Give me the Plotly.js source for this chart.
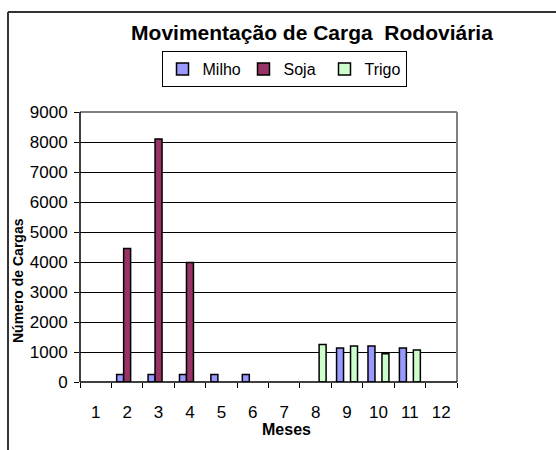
<!DOCTYPE html>
<html>
<head>
<meta charset="utf-8">
<script src="https://cdn.plot.ly/plotly-3.0.1.min.js"></script>
<style>html,body{margin:0;padding:0;background:#fff;}#chart{width:556px;height:450px;}</style>
</head>
<body>
<div id="chart"></div>
<script>
const months = ['1','2','3','4','5','6','7','8','9','10','11','12'];
const milho = [null, 250, 250, 250, 250, 250, null, null, 1130, 1200, 1130, null];
const soja  = [null, 4450, 8100, 3980, null, null, null, null, null, null, null, null];
const trigo = [null, null, null, null, null, null, null, 1250, 1200, 940, 1070, null];
const yTicks = [0,1000,2000,3000,4000,5000,6000,7000,8000,9000];

const W = 556, H = 450;
const M = {l: 80, r: 99, t: 112, b: 68};
const pw = W - M.l - M.r, ph = H - M.t - M.b;
const px = x => (x - M.l) / pw;
const py = y => (H - M.b - y) / ph;

const FONT = 'Liberation Sans, Arial, sans-serif';
const outline = {color: '#000', width: 1.5};

const traces = [
  {type: 'bar', name: 'Milho', x: months, y: milho, marker: {color: '#9999FF', line: outline}},
  {type: 'bar', name: 'Soja',  x: months, y: soja,  marker: {color: '#993366', line: outline}},
  {type: 'bar', name: 'Trigo', x: months, y: trigo, marker: {color: '#CCFFCC', line: outline}}
];

const layout = {
  width: W, height: H,
  margin: M,
  paper_bgcolor: '#fff', plot_bgcolor: '#fff',
  barmode: 'group', bargap: 0.333, bargroupgap: 0,
  font: {family: FONT, size: 17, color: '#000'},
  title: {
    text: 'Movimentação de Carga  Rodoviária',
    font: {family: FONT, size: 21, weight: 'bold', color: '#000'},
    xref: 'paper', x: px(312), xanchor: 'center',
    yref: 'container', y: 1 - 33 / H, yanchor: 'middle'
  },
  showlegend: true,
  legend: {
    orientation: 'h', xref: 'paper', x: px(284), xanchor: 'center',
    yref: 'paper', y: py(51), yanchor: 'top',
    bordercolor: '#000', borderwidth: 1, bgcolor: '#fff',
    font: {family: FONT, size: 16, color: '#000'},
    itemwidth: 30, tracegroupgap: 0, entrywidth: 36
  },
  xaxis: {
    type: 'category', range: [-0.5, 11.5], fixedrange: true,
    tickson: 'boundaries', ticks: 'outside', ticklen: 5, tickcolor: '#000', tickwidth: 1,
    showgrid: false, showline: false, zeroline: false,
    ticklabelstandoff: 18,
    tickfont: {family: FONT, size: 17, color: '#000'}
  },
  yaxis: {
    range: [0, 9000], tickvals: yTicks, ticktext: yTicks.map(String),
    ticks: 'outside', ticklen: 5, tickcolor: '#000', tickwidth: 1,
    showgrid: true, gridcolor: '#000', gridwidth: 1,
    showline: false, zeroline: false, fixedrange: true,
    ticklabelstandoff: 3,
    tickfont: {family: FONT, size: 17, color: '#000'}
  },
  annotations: [
    {text: 'Meses', xref: 'paper', yref: 'paper', x: px(286), y: py(429),
     xanchor: 'center', yanchor: 'middle', showarrow: false,
     font: {family: FONT, size: 16, weight: 'bold', color: '#000'}},
    {text: 'Número de Cargas', xref: 'paper', yref: 'paper', x: px(18), y: py(281),
     xanchor: 'center', yanchor: 'middle', showarrow: false, textangle: -90,
     font: {family: FONT, size: 14, weight: 'bold', color: '#000'}}
  ],
  shapes: [
    {type: 'line', xref: 'paper', yref: 'paper', x0: 1, x1: 1, y0: 0, y1: 1, line: {color: '#808080', width: 2}, layer: 'above'},
    {type: 'line', xref: 'paper', yref: 'paper', x0: 0, x1: 1, y0: 1, y1: 1, line: {color: '#808080', width: 2}, layer: 'above'},
    {type: 'line', xref: 'paper', yref: 'paper', x0: 0, x1: 0, y0: 0, y1: 1, line: {color: '#000', width: 1.5}, layer: 'above'},
    {type: 'line', xref: 'paper', yref: 'paper', x0: 0, x1: 1, y0: 0, y1: 0, line: {color: '#000', width: 1.5}, layer: 'above'},
    {type: 'line', xref: 'paper', yref: 'paper', x0: px(8), x1: px(556), y0: py(12), y1: py(12), line: {color: '#333', width: 2}},
    {type: 'line', xref: 'paper', yref: 'paper', x0: px(8), x1: px(8), y0: py(12), y1: py(450), line: {color: '#333', width: 2}}
  ]
};

Plotly.newPlot('chart', traces, layout, {displayModeBar: false, staticPlot: true});
</script>
</body>
</html>
